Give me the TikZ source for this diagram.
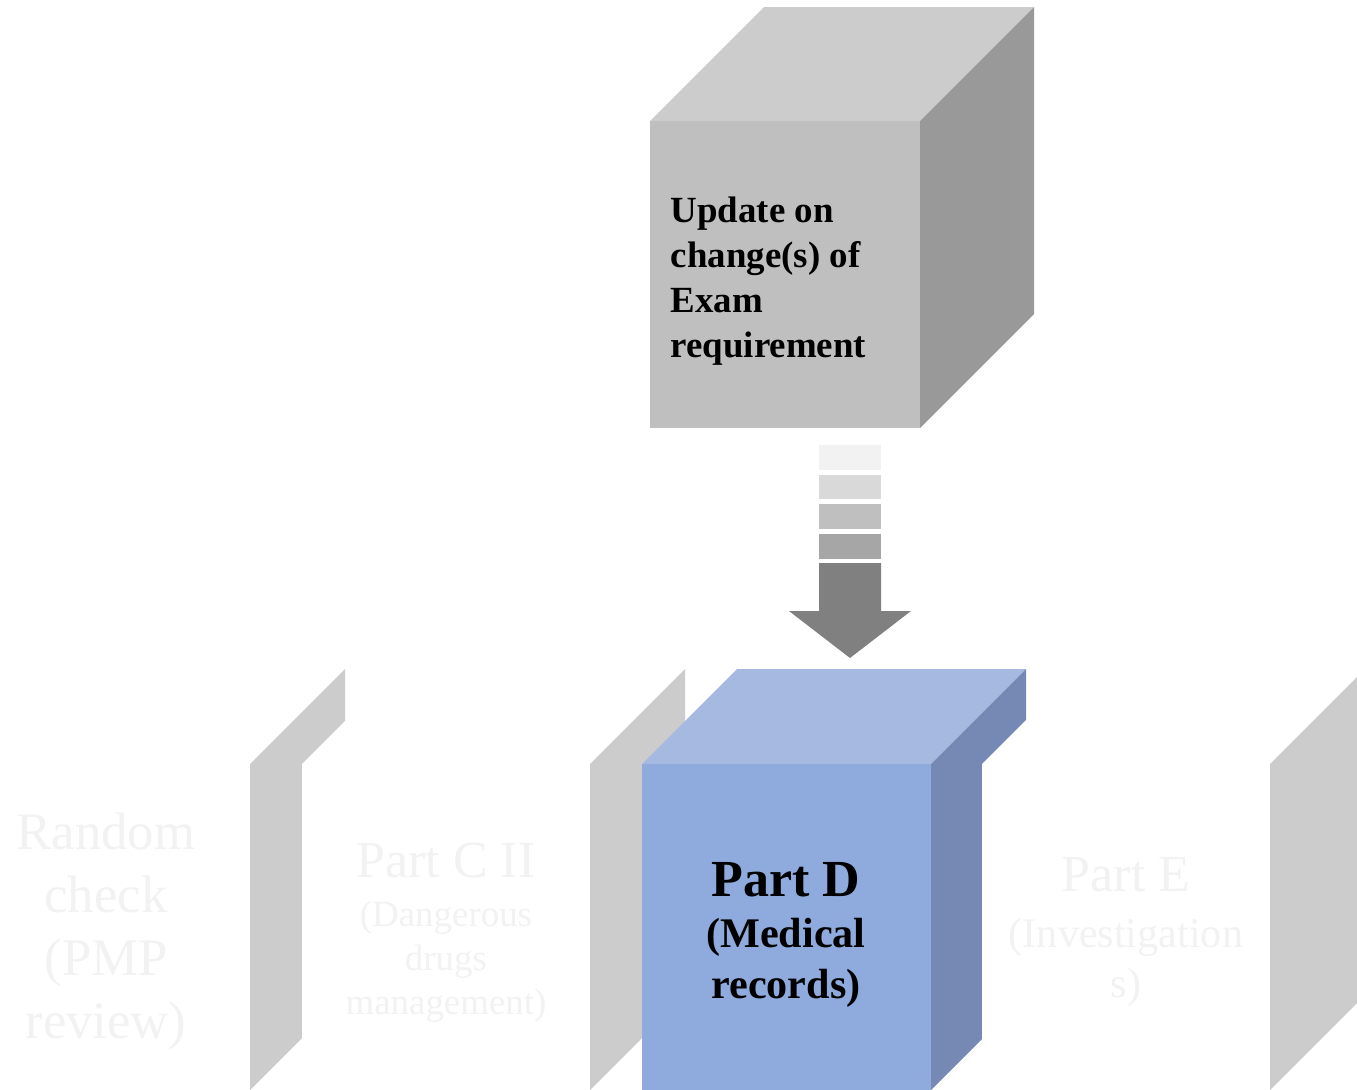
\documentclass[tikz,border=0pt]{standalone}
\usepackage{fontspec}
\setmainfont{Liberation Serif}
\usepackage{xcolor}
\usepackage{tikz}

\definecolor{blueface}{HTML}{8FAADC}
\definecolor{bluetop}{HTML}{A6B9E1}
\definecolor{blueside}{HTML}{7689B4}
\definecolor{fadetext}{HTML}{F2F2F2}

\newcommand{\cpsub}{\fontsize{10.5}{12.5}\selectfont}
\newcommand{\bigsub}{\fontsize{12}{14.3}\selectfont}

\tikzset{
	faded/.style={text=fadetext, align=center, inner sep=0pt},
	boxtext/.style={text=black, align=center, inner sep=0pt},
}

% front face, top face, side face
\newcommand{\drawcube}[8]{%
	\fill[#6] (#1,#2) rectangle ++(#3,#4);
	\fill[#7] (#1,#2) -- ++(#5,-#5) -- ++(#3,0) -- ++(-#5,#5) -- cycle;
	\fill[#8] (#1+#3,#2) -- ++(#5,-#5) -- ++(0,#4) -- ++(-#5,#5) -- cycle;
}

\begin{document}
\begin{tikzpicture}[x=0.1mm,y=-0.1mm]
		\clip (0,0) rectangle (1357,1090);
		\fill[white] (0,0) rectangle (1357,1090);

		% top cube
		\drawcube{650}{121}{270}{307}{114}{black!25}{black!20}{black!40}
		\node[anchor=west, align=left, inner sep=0pt, font=\fontsize{10.5}{12.8}\selectfont\bfseries] (update) at (670,281)
			{Update on\\change(s) of\\Exam\\requirement};

		% row of cubes
		\drawcube{-38}{764}{288}{326}{95}{white}{white}{black!20}
		\drawcube{302}{764}{288}{326}{95}{white}{white}{black!20}
		\drawcube{642}{764}{289}{326}{95}{blueface}{bluetop}{blueside}
		\drawcube{982}{764}{288}{326}{95}{white}{white}{black!20}

		\node[faded, font=\fontsize{15}{17.9}\selectfont] (random) at (106,931)
			{Random\\check\\(PMP\\review)};
		\node[faded, font=\fontsize{14.8}{12.5}\selectfont] (partc) at (446,933)
			{Part C II\\[1.4pt]\cpsub (Dangerous\\\cpsub drugs\\\cpsub management)};
		\node[boxtext, font=\fontsize{14.8}{14.5}\selectfont\bfseries] (partd) at (786,935)
			{Part D\\\bigsub (Medical\\\bigsub records)};
		\node[faded, font=\fontsize{14.8}{14.3}\selectfont] (parte) at (1126,932)
			{Part E\\[1.5pt]\bigsub (Investigation\\\bigsub s)};

		% arrow
		\fill[black!5] (819,445) rectangle (881,470);
		\fill[black!15] (819,475) rectangle (881,499);
		\fill[black!25] (819,504) rectangle (881,529);
		\fill[black!35] (819,534) rectangle (881,559);
		\fill[black!50] (819,563) -- (881,563) -- (881,611) -- (911,611)
			-- (850,658) -- (789,611) -- (819,611) -- cycle;
\end{tikzpicture}
\end{document}
